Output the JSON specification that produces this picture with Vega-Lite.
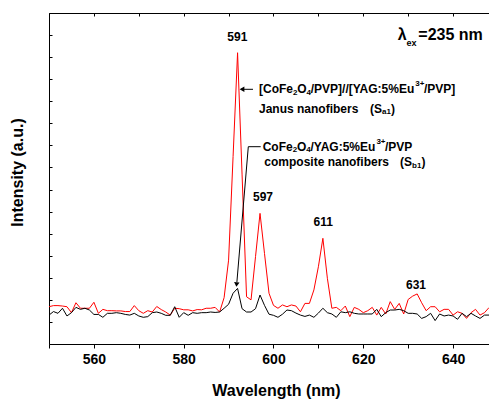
{
"$schema": "https://vega.github.io/schema/vega-lite/v6.json",
"width": 440, "height": 331,
"autosize": {"type": "none"},
"padding": {"left": 49, "top": 13, "right": 0, "bottom": 56},
"background": "white",
"config": {"view": {"stroke": null}, "font": "Liberation Sans"},
"encoding": {
  "x": {"field": "wl", "type": "quantitative", "scale": {"domain": [550, 648], "nice": false, "zero": false}, "axis": null},
  "y": {"field": "v", "type": "quantitative", "scale": {"domain": [0, 15], "nice": false, "zero": false},
    "axis": {"values": [0,1,2,3,4,5,6,7,8,9,10,11,12,13,14,15], "labels": false, "tickSize": -3, "tickColor": "black", "domainColor": "black", "grid": false,
      "title": "Intensity (a.u.)", "titleFont": "Liberation Sans", "titleFontWeight": "bold", "titleFontSize": 16, "titleColor": "black",
      "titleX": -32, "titleY": 159, "titleAngle": -90, "titleAlign": "center", "titleBaseline": "middle"}}
},
"layer": [
{
  "data": {"values": [
{"wl":550,"Janus":1.69,"Composite":1.31},{"wl":551,"Janus":1.74,"Composite":1.47},{"wl":552,"Janus":1.74,"Composite":1.39},{"wl":553,"Janus":1.72,"Composite":1.62},{"wl":554,"Janus":1.69,"Composite":1.27},
{"wl":555,"Janus":1.42,"Composite":1.42},{"wl":556,"Janus":1.87,"Composite":1.66},{"wl":557,"Janus":1.62,"Composite":1.57},{"wl":558,"Janus":1.62,"Composite":1.62},{"wl":559,"Janus":1.62,"Composite":1.54},
{"wl":560,"Janus":1.89,"Composite":1.34},{"wl":561,"Janus":1.39,"Composite":1.34},{"wl":562,"Janus":1.57,"Composite":1.21},{"wl":563,"Janus":1.51,"Composite":1.39},{"wl":564,"Janus":1.51,"Composite":1.39},
{"wl":565,"Janus":1.50,"Composite":1.42},{"wl":566,"Janus":1.50,"Composite":1.39},{"wl":567,"Janus":1.47,"Composite":1.34},{"wl":568,"Janus":1.47,"Composite":1.31},{"wl":569,"Janus":1.74,"Composite":1.39},
{"wl":570,"Janus":1.51,"Composite":1.27},{"wl":571,"Janus":1.39,"Composite":1.21},{"wl":572,"Janus":1.51,"Composite":1.24},{"wl":573,"Janus":1.45,"Composite":1.42},{"wl":574,"Janus":1.70,"Composite":1.45},
{"wl":575,"Janus":1.56,"Composite":1.39},{"wl":576,"Janus":1.45,"Composite":1.30},{"wl":577,"Janus":1.31,"Composite":1.30},{"wl":578,"Janus":1.62,"Composite":1.69},{"wl":579,"Janus":1.60,"Composite":1.21},
{"wl":580,"Janus":1.55,"Composite":1.42},{"wl":581,"Janus":1.55,"Composite":1.30},{"wl":582,"Janus":1.50,"Composite":1.42},{"wl":583,"Janus":1.56,"Composite":1.39},{"wl":584,"Janus":1.55,"Composite":1.42},
{"wl":585,"Janus":1.62,"Composite":1.42},{"wl":586,"Janus":1.62,"Composite":1.45},{"wl":587,"Janus":1.66,"Composite":1.43},{"wl":588,"Janus":1.45,"Composite":1.45},{"wl":589,"Janus":2.1,"Composite":1.62},
{"wl":590,"Janus":3.8,"Composite":1.80},{"wl":591,"Janus":8.5,"Composite":2.3},{"wl":592,"Janus":13.2,"Composite":2.52},{"wl":593,"Janus":7.7,"Composite":1.6},{"wl":594,"Janus":2.14,"Composite":1.45},
{"wl":595,"Janus":2.0,"Composite":1.45},{"wl":596,"Janus":3.96,"Composite":1.6},{"wl":597,"Janus":5.92,"Composite":2.22},{"wl":598,"Janus":4.1,"Composite":1.75},{"wl":599,"Janus":2.3,"Composite":1.35},
{"wl":600,"Janus":1.75,"Composite":1.3},{"wl":601,"Janus":1.62,"Composite":1.21},{"wl":602,"Janus":1.77,"Composite":1.35},{"wl":603,"Janus":1.69,"Composite":1.54},{"wl":604,"Janus":1.77,"Composite":1.51},
{"wl":605,"Janus":1.72,"Composite":1.4},{"wl":606,"Janus":1.46,"Composite":1.31},{"wl":607,"Janus":1.84,"Composite":1.25},{"wl":608,"Janus":1.84,"Composite":1.31},{"wl":609,"Janus":2.45,"Composite":1.21},
{"wl":610,"Janus":3.5,"Composite":1.4},{"wl":611,"Janus":4.79,"Composite":1.62},{"wl":612,"Janus":2.98,"Composite":1.42},{"wl":613,"Janus":1.62,"Composite":1.36},{"wl":614,"Janus":1.66,"Composite":1.21},
{"wl":615,"Janus":1.51,"Composite":1.46},{"wl":616,"Janus":1.72,"Composite":1.42},{"wl":617,"Janus":1.24,"Composite":1.46},{"wl":618,"Janus":1.66,"Composite":1.39},{"wl":619,"Janus":1.57,"Composite":1.36},
{"wl":620,"Janus":1.42,"Composite":1.36},{"wl":621,"Janus":1.51,"Composite":1.36},{"wl":622,"Janus":1.66,"Composite":1.36},{"wl":623,"Janus":1.31,"Composite":1.57},{"wl":624,"Janus":1.66,"Composite":1.24},
{"wl":625,"Janus":1.36,"Composite":1.42},{"wl":626,"Janus":1.92,"Composite":1.54},{"wl":627,"Janus":1.57,"Composite":1.54},{"wl":628,"Janus":1.84,"Composite":1.57},{"wl":629,"Janus":1.36,"Composite":1.51},
{"wl":630,"Janus":2.02,"Composite":1.39},{"wl":631,"Janus":2.17,"Composite":1.39},{"wl":632,"Janus":2.27,"Composite":1.36},{"wl":633,"Janus":1.87,"Composite":1.16},{"wl":634,"Janus":1.51,"Composite":1.24},
{"wl":635,"Janus":1.69,"Composite":1.39},{"wl":636,"Janus":1.69,"Composite":1.06},{"wl":637,"Janus":1.46,"Composite":1.36},{"wl":638,"Janus":1.57,"Composite":1.27},{"wl":639,"Janus":1.57,"Composite":1.31},
{"wl":640,"Janus":1.31,"Composite":1.27},{"wl":641,"Janus":1.46,"Composite":1.12},{"wl":642,"Janus":1.39,"Composite":1.39},{"wl":643,"Janus":1.16,"Composite":1.24},{"wl":644,"Janus":1.42,"Composite":1.39},
{"wl":645,"Janus":1.57,"Composite":1.27},{"wl":646,"Janus":1.31,"Composite":1.16},{"wl":647,"Janus":1.42,"Composite":1.31},{"wl":648,"Janus":1.65,"Composite":1.31}
  ]},
  "transform": [{"fold": ["Janus", "Composite"], "as": ["s", "v"]}],
  "mark": {"type": "line", "strokeWidth": 1, "clip": true},
  "encoding": {
    "x": {"field": "wl", "type": "quantitative", "scale": {"domain": [550, 648], "nice": false, "zero": false},
      "axis": {"orient": "bottom", "values": [550,560,570,580,590,600,610,620,630,640], "labelExpr": "datum.value % 20 == 0 ? datum.label : ''",
        "tickSize": 4, "tickColor": "black", "domainColor": "black", "grid": false, "labelFlush": false, "labelOverlap": false,
        "labelFont": "Liberation Sans", "labelFontWeight": "bold", "labelFontSize": 14, "labelColor": "black", "labelPadding": 4,
        "title": "Wavelength (nm)", "titleFont": "Liberation Sans", "titleFontWeight": "bold", "titleFontSize": 16, "titleColor": "black",
        "titleX": 227, "titleY": 46, "titleAlign": "center", "titleBaseline": "middle"}},
    "color": {"field": "s", "type": "nominal", "scale": {"domain": ["Janus", "Composite"], "range": ["#ff0000", "#000000"]}, "legend": null}
  }
},
{
  "data": {"values": [{"wl": 550, "v": 0}]},
  "mark": {"type": "point", "opacity": 0},
  "encoding": {
    "x": {"field": "wl", "type": "quantitative", "scale": {"domain": [550, 648], "nice": false, "zero": false},
      "axis": {"orient": "top", "values": [550,560,570,580,590,600,610,620,630,640], "labels": false, "tickSize": -3, "tickColor": "black", "domainColor": "black", "grid": false, "title": null}}
  }
},
{
  "data": {"values": [
    {"id": "a", "o": 1, "wl": 595.436, "v": 11.542},
    {"id": "a", "o": 2, "wl": 592.75, "v": 11.542},
    {"id": "b", "o": 1, "wl": 597.151, "v": 8.941},
    {"id": "b", "o": 2, "wl": 594.389, "v": 8.941},
    {"id": "b", "o": 3, "wl": 591.85, "v": 2.81}
  ]},
  "mark": {"type": "line", "color": "black", "strokeWidth": 1},
  "encoding": {"detail": {"field": "id"}, "order": {"field": "o", "type": "quantitative"}}
},
{
  "data": {"values": [{"wl": 592.986, "v": 11.542}]},
  "mark": {"type": "point", "shape": "triangle-left", "filled": true, "color": "black", "opacity": 1, "size": 30}
},
{
  "data": {"values": [{"wl": 591.78, "v": 2.696}]},
  "mark": {"type": "point", "shape": "triangle-down", "filled": true, "color": "black", "opacity": 1, "size": 30, "angle": 5}
},
{
  "data": {"values": [
    {"wl": 591.94, "v": 13.93, "t": "591"},
    {"wl": 597.66, "v": 6.68, "t": "597"},
    {"wl": 611.09, "v": 5.54, "t": "611"},
    {"wl": 631.74, "v": 2.67, "t": "631"}
  ]},
  "mark": {"type": "text", "align": "center", "baseline": "middle", "font": "Liberation Sans", "fontWeight": "bold", "fontSize": 12, "color": "black"},
  "encoding": {"text": {"field": "t"}}
},
{
  "data": {"values": [
    {"wl": 596.773, "v": 11.542, "t": "[CoFe"},
    {"wl": 605.281, "v": 11.542, "t": "O"},
    {"wl": 608.288, "v": 11.542, "t": "/PVP]//[YAG:5%Eu"},
    {"wl": 633.5, "v": 11.542, "t": "/PVP]"},
    {"wl": 596.773, "v": 10.672, "t": "Janus nanofibers"},
    {"wl": 621.495, "v": 10.672, "t": "(S"},
    {"wl": 626.161, "v": 10.672, "t": ")"},
    {"wl": 597.597, "v": 8.941, "t": "CoFe"},
    {"wl": 605.214, "v": 8.941, "t": "O"},
    {"wl": 608.221, "v": 8.941, "t": "/YAG:5%Eu"},
    {"wl": 624.836, "v": 8.941, "t": "/PVP"},
    {"wl": 597.953, "v": 8.261, "t": "composite nanofibers"},
    {"wl": 628.177, "v": 8.261, "t": "(S"},
    {"wl": 632.955, "v": 8.261, "t": ")"}
  ]},
  "mark": {"type": "text", "align": "left", "baseline": "middle", "font": "Liberation Sans", "fontWeight": "bold", "fontSize": 12, "color": "black"},
  "encoding": {"text": {"field": "t"}}
},
{
  "data": {"values": [
    {"wl": 604.346, "v": 11.375, "t": "2"},
    {"wl": 607.352, "v": 11.375, "t": "4"},
    {"wl": 631.585, "v": 11.782, "t": "3+"},
    {"wl": 624.168, "v": 10.491, "t": "a1"},
    {"wl": 604.279, "v": 8.769, "t": "2"},
    {"wl": 607.285, "v": 8.769, "t": "4"},
    {"wl": 622.921, "v": 9.154, "t": "3+"},
    {"wl": 630.85, "v": 8.089, "t": "b1"}
  ]},
  "mark": {"type": "text", "align": "left", "baseline": "middle", "font": "Liberation Sans", "fontWeight": "bold", "fontSize": 8, "color": "black"},
  "encoding": {"text": {"field": "t"}}
},
{
  "data": {"values": [
    {"wl": 627.665, "v": 14.003, "t": "λ"},
    {"wl": 632.253, "v": 14.003, "t": "=235 nm"}
  ]},
  "mark": {"type": "text", "align": "left", "baseline": "middle", "font": "Liberation Sans", "fontWeight": "bold", "fontSize": 16, "color": "black"},
  "encoding": {"text": {"field": "t"}}
},
{
  "data": {"values": [{"wl": 629.647, "v": 13.65, "t": "ex"}]},
  "mark": {"type": "text", "align": "left", "baseline": "middle", "font": "Liberation Sans", "fontWeight": "bold", "fontSize": 9, "color": "black"},
  "encoding": {"text": {"field": "t"}}
}
],
"resolve": {"axis": {"x": "independent"}}
}
